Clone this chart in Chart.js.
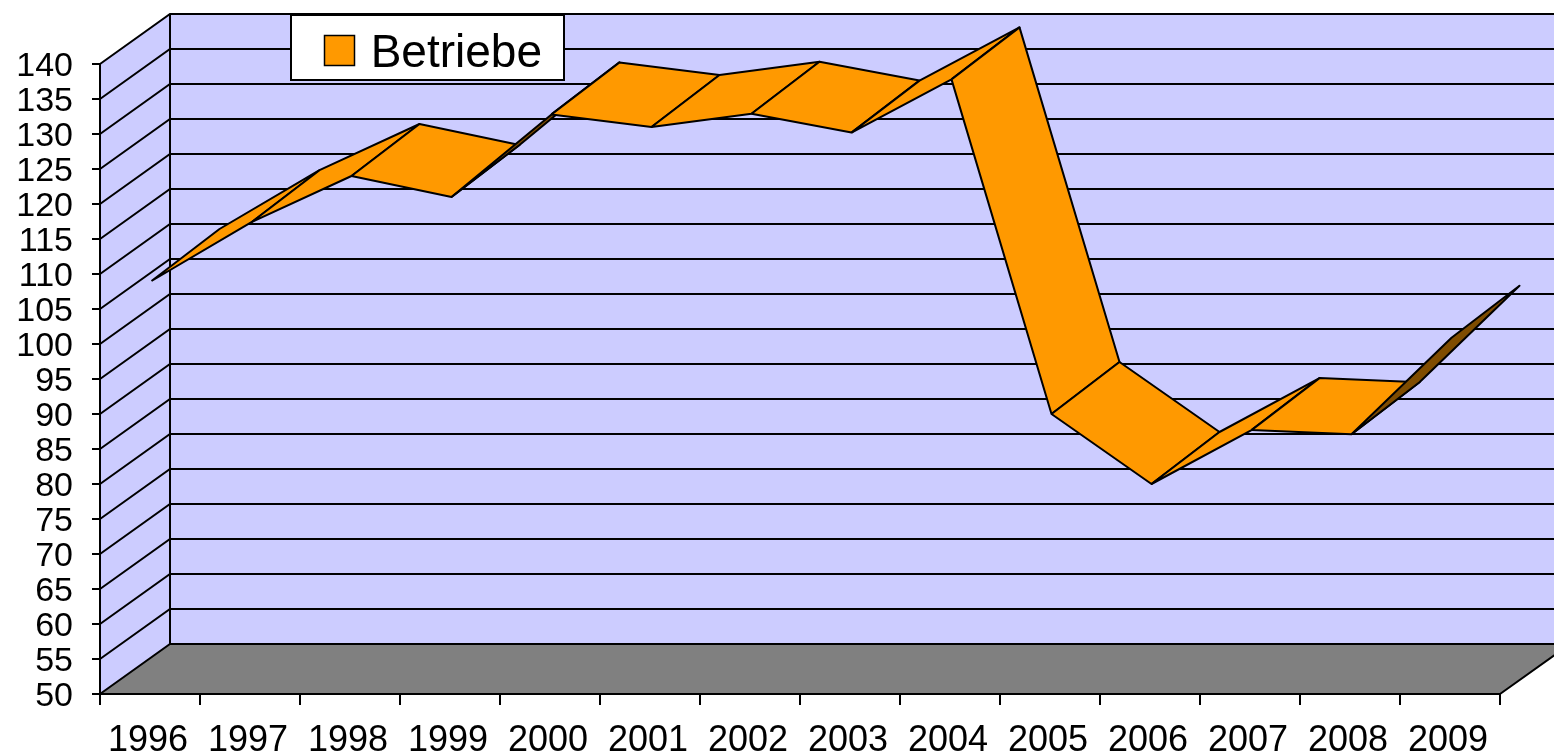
<!DOCTYPE html>
<html>
<head>
<meta charset="utf-8">
<title>Betriebe</title>
<style>
    html, body { margin: 0; background: #fff; overflow: hidden; }
    canvas { display: block; }
</style>
<script src="https://cdn.jsdelivr.net/npm/chart.js@4"></script>
</head>
<body>
<canvas id="grafico" width="1554" height="755"></canvas>
<script>
// Datos
const anios = ['1996', '1997', '1998', '1999', '2000', '2001', '2002', '2003', '2004', '2005', '2006', '2007', '2008', '2009'];
const betriebe = [109, 117.4, 124, 121, 132.8, 131, 132.9, 130.2, 137.8, 90, 80, 87.7, 87.1, 100.9];
const serie = 'Betriebe';

const colorPared = '#CCCCFF';
const colorSuelo = '#808080';
const colorCinta = '#FF9900';
const colorCintaOscura = '#7F4C00';
const fuente = 'Liberation Sans';

// Profundidad de la cinta en unidades de los ejes (68 px y 52 px)
const fondoX = 0.68;
const fondoY = 52 / 7;
// Profundidad de las paredes en pixeles
const paredX = 70;
const paredY = 50;

// Un cuadrilatero por tramo; Chart.js pinta primero el order mas alto
const tramos = [];
for (let i = 0; i < betriebe.length - 1; i++) {
    const x0 = Number(anios[i]);
    const x1 = Number(anios[i + 1]);
    const sube = betriebe[i + 1] - betriebe[i];
    tramos.push({
        label: serie,
        type: 'scatter',
        order: -i,
        showLine: true,
        clip: false,
        pointRadius: 0,
        pointHoverRadius: 0,
        borderColor: '#000',
        borderWidth: 2,
        borderJoinStyle: 'round',
        // si sube mas que la profundidad se ve la cara de abajo
        backgroundColor: sube > fondoY / fondoX ? colorCintaOscura : colorCinta,
        xAxisID: 'x',
        yAxisID: 'y',
        data: [
            { x: x0, y: betriebe[i] },
            { x: x1, y: betriebe[i + 1] },
            { x: x1 + fondoX, y: betriebe[i + 1] + fondoY },
            { x: x0 + fondoX, y: betriebe[i] + fondoY },
            { x: x0, y: betriebe[i] }
        ]
    });
}

function poligono(ctx, puntos, relleno) {
    ctx.beginPath();
    puntos.forEach((p, i) => i ? ctx.lineTo(p[0], p[1]) : ctx.moveTo(p[0], p[1]));
    ctx.closePath();
    ctx.fillStyle = relleno;
    ctx.fill();
}

// Paredes, suelo y caja de la leyenda
const caja3d = {
    id: 'caja3d',
    afterLayout(chart) {
        const ley = chart.legend;
        ley.left = 324;
        ley.top = 31;
        ley.right = 542;
        ley.bottom = 80;
    },
    beforeDraw(chart) {
        const { ctx, chartArea: a, scales } = chart;
        const fin = 1600;
        ctx.save();
        poligono(ctx, [[a.left + paredX, a.top - paredY], [fin, a.top - paredY], [fin, a.bottom - paredY], [a.left + paredX, a.bottom - paredY]], colorPared);
        poligono(ctx, [[a.left, a.top], [a.left + paredX, a.top - paredY], [a.left + paredX, a.bottom - paredY], [a.left, a.bottom]], colorPared);
        poligono(ctx, [[a.left, a.bottom], [a.left + paredX, a.bottom - paredY], [a.right + paredX, a.bottom - paredY], [a.right, a.bottom]], colorSuelo);

        ctx.strokeStyle = '#000';
        ctx.lineWidth = 2;
        ctx.beginPath();
        scales.y.ticks.forEach(t => {
            const y = scales.y.getPixelForValue(t.value);
            ctx.moveTo(a.left, y);
            ctx.lineTo(a.left + paredX, y - paredY);
            ctx.lineTo(fin, y - paredY);
        });
        ctx.moveTo(a.left + paredX, a.top - paredY);
        ctx.lineTo(a.left + paredX, a.bottom - paredY);
        ctx.moveTo(a.right, a.bottom);
        ctx.lineTo(a.right + paredX, a.bottom - paredY);
        ctx.stroke();

        // leyenda: caja y muestra aparte, el texto queda unos px mas abajo
        ctx.fillStyle = '#fff';
        ctx.fillRect(291, 15, 273, 65);
        ctx.strokeRect(291, 15, 273, 65);
        ctx.fillStyle = colorCinta;
        ctx.lineWidth = 1.5;
        ctx.fillRect(324.5, 35.5, 30, 30);
        ctx.strokeRect(324.5, 35.5, 30, 30);
        ctx.restore();

        // ajuste fino de las etiquetas de los ejes
        scales.y.getLabelItems().forEach(it => { it.options.translation[1] += 3; });
        scales.anios.getLabelItems().forEach(it => { it.options.translation[0] -= 2; });
    },
    // relleno de cada tramo con los puntos que calcula la libreria
    beforeDatasetDraw(chart, args) {
        const puntos = args.meta.data.map(p => [p.x, p.y]);
        chart.ctx.save();
        poligono(chart.ctx, puntos, chart.data.datasets[args.index].backgroundColor);
        chart.ctx.restore();
    }
};

const ctx = document.getElementById('grafico').getContext('2d');
const grafico = new Chart(ctx, {
    data: { datasets: tramos },
    options: {
        responsive: false,
        animation: false,
        layout: { padding: { top: 64, right: 54, bottom: 0, left: 0 } },
        plugins: {
            title: { display: false },
            tooltip: { enabled: false },
            legend: {
                display: true,
                position: 'chartArea',
                align: 'start',
                labels: {
                    generateLabels: () => [{ text: serie, fillStyle: 'transparent', strokeStyle: 'transparent', lineWidth: 0, datasetIndex: 0 }],
                    boxWidth: 31,
                    boxHeight: 31,
                    padding: 0,
                    textAlign: 'right',
                    color: '#000',
                    font: { family: fuente, size: 46 }
                }
            }
        },
        scales: {
            x: {
                type: 'linear',
                display: false,
                min: 1995.485,
                max: 2009.485
            },
            anios: {
                type: 'category',
                labels: anios,
                position: 'bottom',
                offset: true,
                afterFit: s => { s.height = 61; },
                grid: { offset: true, drawOnChartArea: false, color: '#000', lineWidth: 2, tickLength: 11 },
                border: { color: '#000', width: 2 },
                ticks: {
                    color: '#000',
                    autoSkip: false,
                    maxRotation: 0,
                    padding: 14,
                    font: { family: fuente, size: 36 }
                }
            },
            y: {
                type: 'linear',
                position: 'left',
                min: 50,
                max: 140,
                afterFit: s => { s.width = 100; },
                grid: { drawOnChartArea: false, color: '#000', lineWidth: 2, tickLength: 8 },
                border: { color: '#000', width: 2 },
                ticks: {
                    stepSize: 5,
                    color: '#000',
                    autoSkip: false,
                    padding: 19,
                    font: { family: fuente, size: 34 }
                }
            }
        }
    },
    plugins: [caja3d]
});
</script>
</body>
</html>
